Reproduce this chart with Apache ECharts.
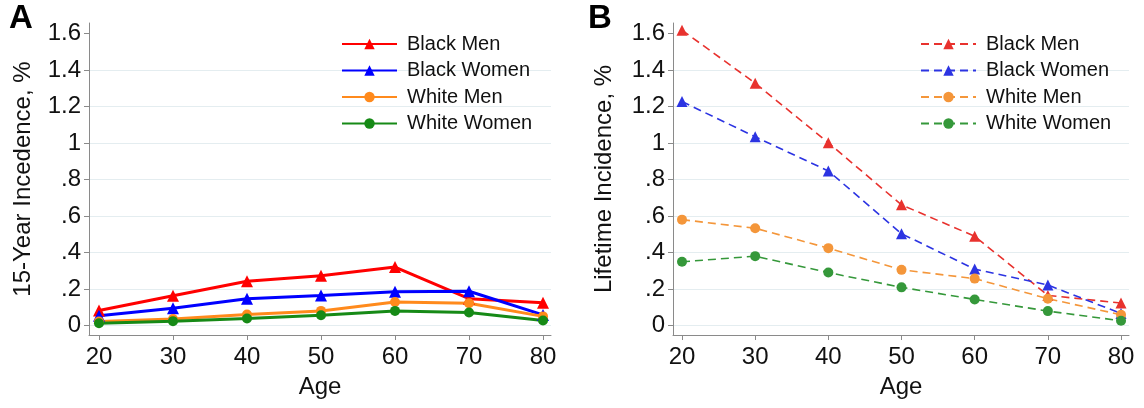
<!DOCTYPE html>
<html>
<head>
<meta charset="utf-8">
<script src="https://cdn.jsdelivr.net/npm/echarts@6/dist/echarts.min.js"></script>
<style>
html,body{margin:0;padding:0;background:#fff;}
#c{width:1144px;height:408px;}
</style>
</head>
<body>
<div id="c"></div>
<script>
// ---- data ----
const ages = [20, 30, 40, 50, 60, 70, 80];
const seriesNames = ['Black Men', 'Black Women', 'White Men', 'White Women'];
// Panel A: 15-year incidence, %
const a_blackMen   = [0.082, 0.163, 0.242, 0.273, 0.320, 0.147, 0.125];
const a_blackWomen = [0.053, 0.095, 0.146, 0.164, 0.185, 0.188, 0.058];
const a_whiteMen   = [0.022, 0.036, 0.060, 0.080, 0.129, 0.122, 0.050];
const a_whiteWomen = [0.012, 0.024, 0.038, 0.056, 0.080, 0.071, 0.027];
// Panel B: lifetime incidence, %
const b_blackMen   = [1.618, 1.328, 1.001, 0.661, 0.489, 0.165, 0.123];
const b_blackWomen = [1.227, 1.034, 0.847, 0.503, 0.309, 0.222, 0.066];
const b_whiteMen   = [0.580, 0.533, 0.424, 0.305, 0.257, 0.147, 0.059];
const b_whiteWomen = [0.349, 0.380, 0.290, 0.209, 0.143, 0.079, 0.026];
// ticks
const xTicks = [20, 30, 40, 50, 60, 70, 80];
const yTicks = [0, 0.2, 0.4, 0.6, 0.8, 1, 1.2, 1.4, 1.6];
const yTickLabels = ['0', '.2', '.4', '.6', '.8', '1', '1.2', '1.4', '1.6'];

const FONT = '"Liberation Sans", Arial, sans-serif';
const colorsA = ['#ff0000', '#0000ff', '#ff8a1c', '#168a16'];
const colorsB = ['#e8322e', '#2c34e2', '#f4963a', '#35983a'];
const symbols = ['triangle', 'triangle', 'circle', 'circle'];

function yLabel(v) {
  for (let i = 0; i < yTicks.length; i++) {
    if (Math.abs(yTicks[i] - v) < 1e-6) return yTickLabels[i];
  }
  return '';
}

function makeX(gi, min, max) {
  return {
    type: 'value', gridIndex: gi, min: min, max: max,
    name: 'Age', nameLocation: 'middle', nameGap: 40,
    nameTextStyle: {fontFamily: FONT, fontSize: 24, color: '#111'},
    axisLine: {show: true, onZero: false, lineStyle: {color: '#8a8a8a', width: 1}},
    axisTick: {show: true, length: 5, customValues: xTicks, lineStyle: {color: '#8a8a8a'}},
    axisLabel: {customValues: xTicks, margin: 10, fontFamily: FONT, fontSize: 24, color: '#111'},
    splitLine: {show: false}
  };
}
function makeY(gi, title, gap) {
  return {
    type: 'value', gridIndex: gi, min: -0.052, max: 1.6575,
    name: title, nameLocation: 'middle', nameGap: gap, nameRotate: 90,
    nameTextStyle: {fontFamily: FONT, fontSize: 24, color: '#111'},
    axisLine: {show: true, onZero: false, lineStyle: {color: '#8a8a8a', width: 1}},
    axisTick: {show: true, length: 5, customValues: yTicks, lineStyle: {color: '#8a8a8a'}},
    axisLabel: {customValues: yTicks, margin: 8, fontFamily: FONT, fontSize: 24, color: '#111',
                formatter: yLabel},
    splitLine: {show: true, showMinLine: true, showMaxLine: false, lineStyle: {color: '#e4edf0', width: 1}}
  };
}

function pairs(vals) { return ages.map((a, i) => [a, vals[i]]); }

const aVals = [a_blackMen, a_blackWomen, a_whiteMen, a_whiteWomen];
const bVals = [b_blackMen, b_blackWomen, b_whiteMen, b_whiteWomen];

const series = [];
aVals.forEach((v, i) => {
  series.push({
    type: 'line', name: seriesNames[i], xAxisIndex: 0, yAxisIndex: 0,
    data: pairs(v), symbol: symbols[i], symbolSize: symbols[i] === 'triangle' ? 12 : 10,
    showAllSymbol: true, silent: true, animation: false,
    lineStyle: {color: colorsA[i], width: 3},
    itemStyle: {color: colorsA[i]}
  });
});
bVals.forEach((v, i) => {
  series.push({
    type: 'line', name: seriesNames[i] + ' ', xAxisIndex: 1, yAxisIndex: 1,
    data: pairs(v), symbol: symbols[i], symbolSize: symbols[i] === 'triangle' ? 11 : 10,
    showAllSymbol: true, silent: true, animation: false,
    lineStyle: {color: colorsB[i], width: 1.6, type: [8, 5]},
    itemStyle: {color: colorsB[i]}
  });
});

function makeLegend(left, names) {
  return {
    orient: 'vertical', left: left, top: 34, padding: 0, data: names,
    itemWidth: 55, itemHeight: 13, itemGap: 6.5,
    formatter: n => n.trim(),
    selectedMode: false,
    textStyle: {fontFamily: FONT, fontSize: 20, color: '#111', lineHeight: 20, padding: [0, 0, 0, 5]}
  };
}

const chart = echarts.init(document.getElementById('c'), null, {renderer: 'canvas'});
chart.setOption({
  animation: false,
  backgroundColor: '#fff',
  grid: [
    {left: 89, top: 23, width: 462, height: 312},
    {left: 673, top: 23, width: 456, height: 312}
  ],
  xAxis: [makeX(0, 18.65, 81.08), makeX(1, 18.77, 81.09)],
  yAxis: [makeY(0, '15-Year Incedence, %', 54), makeY(1, 'Lifetime Incidence, %', 57)],
  legend: [
    makeLegend(341, seriesNames),
    makeLegend(920, seriesNames.map(n => n + ' '))
  ],
  graphic: [
    {type: 'text', left: 9, top: 2, style: {text: 'A', font: 'bold 33px ' + FONT, fill: '#000'}},
    {type: 'text', left: 588, top: 2, style: {text: 'B', font: 'bold 33px ' + FONT, fill: '#000'}}
  ],
  series: series
});
</script>
</body>
</html>
